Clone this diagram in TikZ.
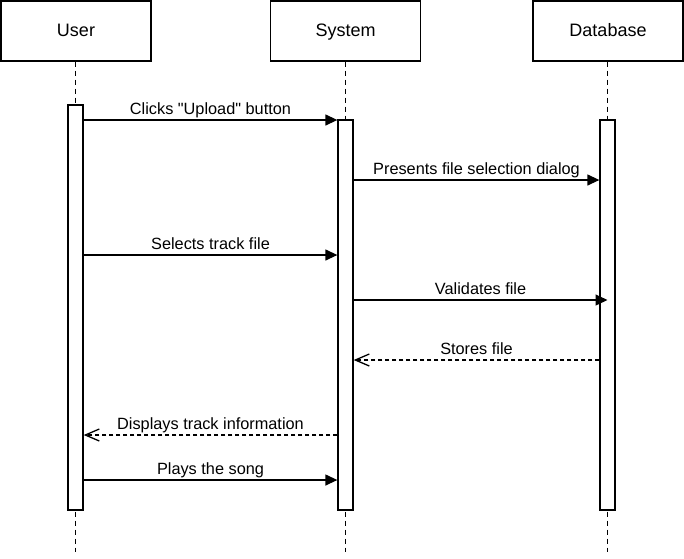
\documentclass[tikz,border=0pt]{standalone}
\usepackage{fontspec}
\setmainfont{Liberation Sans}
\usetikzlibrary{arrows.meta}
\begin{document}
\begin{tikzpicture}[x=1pt,y=-1pt,line width=1.3pt,
  head/.style={draw,rectangle,minimum width=150pt,minimum height=60pt,inner sep=0pt,text height=13pt,text depth=1.6pt,font=\fontsize{18}{21}\selectfont},
  bar/.style={draw,rectangle,fill=white,minimum width=15pt,inner sep=0pt},
  life/.style={dash pattern=on 5pt off 4pt},
  msg/.style={-{Triangle[length=12pt,width=11pt]}},
  ret/.style={dash pattern=on 4pt off 3pt,-{Straight Barb[length=14pt,width=12pt,line width=1.3pt]}},
  lbl/.style={midway,anchor=base,yshift=6pt,inner sep=0pt,font=\fontsize{16.3}{19}\selectfont}]
\useasboundingbox[fill=white] (0,0) rectangle (684,558);
% headers
\node[head] (user) at (76,31) {User};
\node[head] (sys) at (345.5,31) {System};
\node[head] (db) at (608,31) {Database};
% end points of lifelines
\coordinate (uend) at (75.5,552);
\coordinate (send) at (345.5,552);
\coordinate (dend) at (607.5,552);
% lifelines
\draw[life] (user.south -| 75.5,0) -- (uend);
\draw[life] (sys.south) -- (send);
\draw[life] (db.south -| 607.5,0) -- (dend);
% activation bars
\node[bar,minimum height=405pt] (ub) at (75.5,307.5) {};
\node[bar,minimum height=390pt] (sb) at (345.5,315) {};
\node[bar,minimum height=390pt] (db2) at (607.5,315) {};
% messages
\draw[msg] (ub.east |- 0,120) -- (sb.west |- 0,120) node[lbl] {Clicks \textquotedbl Upload\textquotedbl{} button};
\draw[msg] (sb.east |- 0,180) -- (db2.west |- 0,180) node[lbl] {Presents file selection dialog};
\draw[msg] (ub.east |- 0,255) -- (sb.west |- 0,255) node[lbl] {Selects track file};
\draw[msg] (sb.east |- 0,300) -- (db2.center |- 0,300) node[lbl] {Validates file};
\draw[ret] (db2.west |- 0,360) -- (sb.east |- 0,360) node[lbl] {Stores file};
\draw[ret] (sb.west |- 0,435) -- (ub.east |- 0,435) node[lbl] {Displays track information};
\draw[msg] (ub.east |- 0,480) -- (sb.west |- 0,480) node[lbl] {Plays the song};
\end{tikzpicture}
\end{document}
